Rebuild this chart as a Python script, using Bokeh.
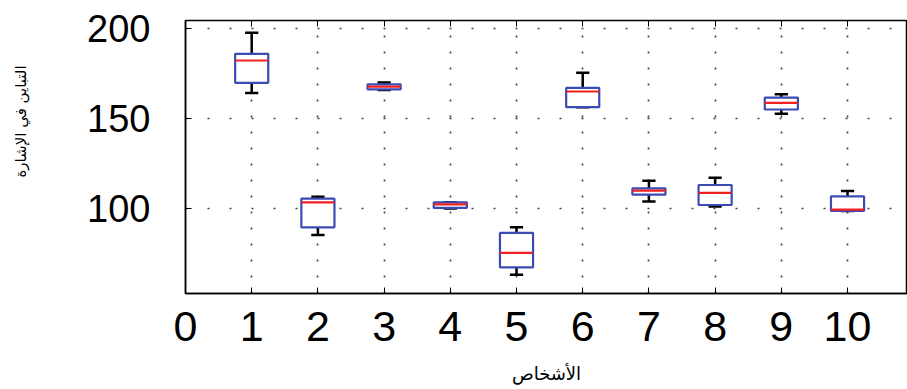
import math
from bokeh.plotting import figure
from bokeh.models import FixedTicker, LinearAxis, Label, Range1d
from bokeh.embed import file_html
from bokeh.resources import INLINE

# ---- data ----
persons = [1, 2, 3, 4, 5, 6, 7, 8, 9, 10]
upper_whisker = [197.8, 106.8, 170.2, 103.7, 89.8, 175.6, 115.7, 117.4, 163.7, 110.0]
q3 = [186.1, 105.7, 169.2, 103.7, 86.7, 167.2, 111.4, 113.3, 161.8, 107.0]
median = [182.4, 103.7, 167.9, 102.6, 75.6, 165.2, 110.2, 108.9, 158.9, 99.6]
q1 = [170.0, 89.8, 166.4, 100.6, 67.6, 156.5, 108.0, 102.2, 155.2, 98.9]
lower_whisker = [164.4, 85.6, 166.0, 100.3, 63.5, 156.5, 104.1, 101.4, 152.8, 98.9]
x_ticks = [0, 1, 2, 3, 4, 5, 6, 7, 8, 9, 10]
y_ticks = [100, 150, 200]
x_title = "الأشخاص"
y_title = "التباين في الإشارة"

box_half = 0.25
cap_half = 0.1

p = figure(width=907, height=389, output_backend="svg", toolbar_location=None,
           x_range=Range1d(0, 10.906), y_range=Range1d(53.1, 204.6),
           min_border_left=185, min_border_right=0, min_border_top=20,
           min_border_bottom=96)

p.outline_line_color = "black"
p.outline_line_width = 1.5
p.background_fill_color = "white"
p.border_fill_color = "white"

# grid
p.xgrid.ticker = FixedTicker(ticks=x_ticks)
p.ygrid.ticker = FixedTicker(ticks=y_ticks)
p.xgrid.grid_line_color = "#444444"
p.xgrid.grid_line_dash = "2 14"
p.xgrid.grid_line_width = 1.6
p.ygrid.grid_line_color = "#444444"
p.ygrid.grid_line_dash = "2 20"
p.ygrid.grid_line_width = 1.6

# axes
xa = p.xaxis[0]
xa.ticker = FixedTicker(ticks=x_ticks)
xa.major_tick_in = 6
xa.major_tick_out = 0
xa.minor_tick_line_color = None
xa.axis_line_color = "black"
xa.axis_line_width = 1.5
xa.major_label_text_font = "Liberation Sans"
xa.major_label_text_font_size = "43px"
xa.major_label_text_color = "black"
xa.major_label_standoff = 18
xa.axis_label = x_title
xa.axis_label_text_font = "DejaVu Sans"
xa.axis_label_text_font_size = "18px"
xa.axis_label_text_font_style = "normal"
xa.axis_label_text_color = "black"
xa.axis_label_standoff = 19

ya = p.yaxis[0]
ya.ticker = FixedTicker(ticks=y_ticks)
ya.major_tick_in = 6
ya.major_tick_out = 0
ya.minor_tick_line_color = None
ya.axis_line_color = "black"
ya.axis_line_width = 1.5
ya.major_label_text_font = "Liberation Sans"
ya.major_label_text_font_size = "38px"
ya.major_label_text_color = "black"
ya.major_label_standoff = 35

top_axis = LinearAxis(ticker=FixedTicker(ticks=x_ticks), major_tick_in=6,
                      major_tick_out=0, minor_tick_line_color=None,
                      major_label_text_font_size="1px", major_label_text_color=None,
                      major_label_standoff=0, axis_line_color="black")
p.add_layout(top_axis, "above")

# y title as a rotated label placed in the left border
p.add_layout(Label(x=20, y=121, x_units="canvas", y_units="canvas",
                   text=y_title, angle=math.pi / 2, text_align="center",
                   text_baseline="middle", text_font="DejaVu Sans",
                   text_font_size="15px", text_color="black"), "left")

# whiskers
p.segment(x0=persons, y0=q3, x1=persons, y1=upper_whisker, line_color="black", line_width=2.5)
p.segment(x0=persons, y0=q1, x1=persons, y1=lower_whisker, line_color="black", line_width=2.5)
p.segment(x0=[x - cap_half for x in persons], y0=upper_whisker,
          x1=[x + cap_half for x in persons], y1=upper_whisker, line_color="black", line_width=2.5)
p.segment(x0=[x - cap_half for x in persons], y0=lower_whisker,
          x1=[x + cap_half for x in persons], y1=lower_whisker, line_color="black", line_width=2.5)

# boxes
p.quad(left=[x - box_half for x in persons], right=[x + box_half for x in persons],
       top=q3, bottom=q1, fill_color="white", line_color="#3a4bb3", line_width=2.2)

# medians
p.segment(x0=[x - box_half for x in persons], y0=median,
          x1=[x + box_half for x in persons], y1=median, line_color="#ee2020", line_width=2.2)

open("out.html", "w").write(file_html(p, INLINE))
